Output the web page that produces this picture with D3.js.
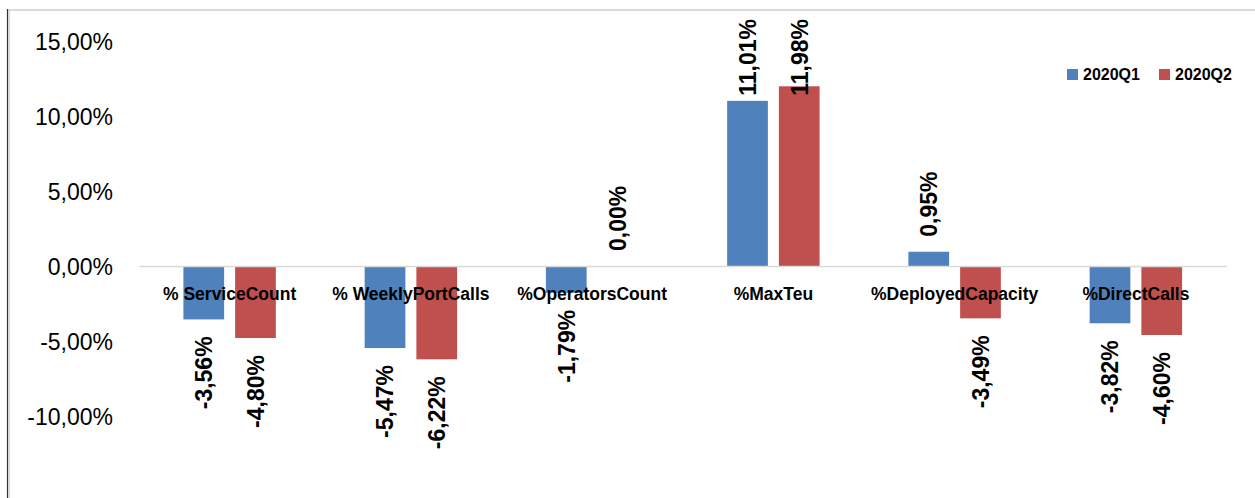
<!DOCTYPE html>
<html>
<head>
<meta charset="utf-8">
<script src="https://cdn.jsdelivr.net/npm/d3@7"></script>
<style>
  html, body { margin: 0; padding: 0; background: #fff; }
  svg { display: block; }
  text { font-family: "Liberation Sans", Arial, sans-serif; fill: #000; }
</style>
</head>
<body>
<svg id="chart" width="1255" height="498"></svg>
<script>
const categories = ["% ServiceCount", "% WeeklyPortCalls", "%OperatorsCount", "%MaxTeu", "%DeployedCapacity", "%DirectCalls"];
const seriesNames = ["2020Q1", "2020Q2"];
const q1Values = [-3.56, -5.47, -1.79, 11.01, 0.95, -3.82];
const q2Values = [-4.80, -6.22, 0.00, 11.98, -3.49, -4.60];
const yTicks = [15, 10, 5, 0, -5, -10];
const yDomain = [-15, 15];
const colors = ["#4f81bd", "#c0504d"];

const series = [q1Values, q2Values];
const rows = [];
categories.forEach((c, i) => {
  seriesNames.forEach((s, j) => rows.push({ cat: c, series: s, value: series[j][i], color: colors[j] }));
});

const loc = d3.formatLocale({ decimal: ",", thousands: ".", grouping: [3], currency: ["", ""], minus: "-" });
const fmt = v => loc.format(".2f")(v) + "%";

const svg = d3.select("#chart");

// chart border
svg.append("line").attr("x1", 8).attr("x2", 1255).attr("y1", 10).attr("y2", 10)
  .attr("stroke", "#d9d9d9").attr("stroke-width", 2);
svg.append("line").attr("x1", 9.2).attr("x2", 9.2).attr("y1", 10).attr("y2", 498)
  .attr("stroke", "#d9d9d9").attr("stroke-width", 1.5);
svg.append("line").attr("x1", 7.5).attr("x2", 7.5).attr("y1", 9).attr("y2", 498)
  .attr("stroke", "#333").attr("stroke-width", 1.2);

const y = d3.scaleLinear().domain(yDomain).range([491, 41]);
const x = d3.scaleBand().domain(categories).range([139, 1226.5]).paddingInner(0.49).paddingOuter(0.245);
const xs = d3.scaleBand().domain(seriesNames).range([0, x.bandwidth()]).paddingInner(0.213).paddingOuter(0);

// y axis labels
const yAxis = d3.axisLeft(y).tickValues(yTicks).tickFormat(fmt).tickSize(0).tickPadding(0);
const yg = svg.append("g").attr("transform", "translate(113,0)").call(yAxis);
yg.select(".domain").remove();
yg.selectAll("text").attr("font-size", "23px").attr("fill", "#000")
  .attr("font-family", "Liberation Sans, Arial, sans-serif").attr("dy", "0.36em");

// bars
svg.append("g").selectAll("rect").data(rows).join("rect")
  .attr("x", d => x(d.cat) + xs(d.series))
  .attr("width", xs.bandwidth())
  .attr("y", d => y(Math.max(0, d.value)))
  .attr("height", d => Math.abs(y(d.value) - y(0)))
  .attr("fill", d => d.color);

// zero line
const xAxis = d3.axisBottom(x).tickSize(0).tickFormat("");
const xg = svg.append("g").attr("transform", `translate(0,${y(0)})`).call(xAxis);
xg.select(".domain").attr("stroke", "#d9d9d9").attr("stroke-width", 1.6);

// category labels
svg.append("g").selectAll("text").data(categories).join("text")
  .attr("x", d => x(d) + x.bandwidth() / 2)
  .attr("y", 300)
  .attr("text-anchor", "middle")
  .attr("font-weight", "bold")
  .attr("font-size", "17.5px")
  .text(d => d);

// value labels
const topLimit = 19;
const labels = svg.append("g").selectAll("text").data(rows).join("text")
  .attr("font-weight", "bold")
  .attr("font-size", "23px")
  .attr("dy", "0.36em")
  .text(d => fmt(d.value));
labels.each(function (d) {
  const t = d3.select(this);
  const len = this.getComputedTextLength();
  const cx = x(d.cat) + xs(d.series) + xs.bandwidth() / 2;
  let py, anchor;
  if (d.value >= 0) {
    py = y(d.value) - 15;
    if (py - len < topLimit) py = topLimit + len;
    anchor = "start";
  } else {
    py = y(d.value) + 17;
    anchor = "end";
  }
  t.attr("text-anchor", anchor).attr("transform", `translate(${cx},${py}) rotate(-90)`);
});

// legend
const legendX = [1067, 1159];
const lg = svg.append("g").selectAll("g").data(seriesNames).join("g")
  .attr("transform", (d, i) => `translate(${legendX[i]},69)`);
lg.append("rect").attr("width", 11).attr("height", 11).attr("fill", (d, i) => colors[i]);
lg.append("text").attr("x", 16).attr("y", 11).attr("font-weight", "bold").attr("font-size", "16px").text(d => d);
</script>
</body>
</html>
